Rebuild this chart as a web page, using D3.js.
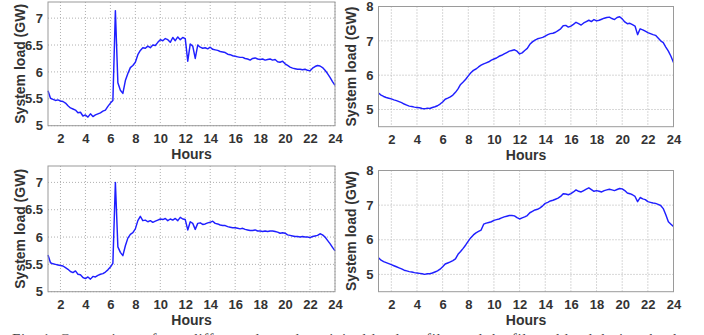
<!DOCTYPE html>
<html>
<head>
<meta charset="utf-8">
<script src="https://cdn.jsdelivr.net/npm/d3@7"></script>
<style>
  body { margin: 0; background: #fff; }
  svg { display: block; }
</style>
</head>
<body>
<div id="chart"></div>
<script>
// time base: one sample every 0.2 h, from hour 1 to hour 24
const hours = d3.range(116).map(i => 1 + i * 0.2);
const hourTicks = [2, 4, 6, 8, 10, 12, 14, 16, 18, 20, 22, 24];
const loadTicksLeft = [5, 5.5, 6, 6.5, 7];
const loadTicksRight = [5, 6, 7, 8];

// system load (GW), rows of 10 samples = 2 hours
const loadTopLeft = [
  5.65,5.51,5.49,5.47,5.48,5.46,5.45,5.42,5.37,5.33,
  5.31,5.29,5.24,5.25,5.18,5.20,5.16,5.22,5.17,5.20,
  5.22,5.24,5.27,5.29,5.36,5.42,5.47,7.14,5.80,5.66,
  5.60,5.84,5.97,6.08,6.12,6.18,6.32,6.40,6.45,6.44,
  6.48,6.45,6.50,6.49,6.55,6.60,6.58,6.62,6.60,6.55,
  6.64,6.58,6.65,6.60,6.64,6.62,6.20,6.52,6.48,6.25,
  6.50,6.46,6.44,6.45,6.43,6.46,6.42,6.41,6.40,6.38,
  6.37,6.36,6.33,6.32,6.30,6.29,6.28,6.27,6.27,6.25,
  6.24,6.22,6.25,6.26,6.24,6.23,6.24,6.22,6.23,6.24,
  6.22,6.23,6.19,6.18,6.20,6.15,6.12,6.09,6.07,6.06,
  6.05,6.05,6.04,6.05,6.03,6.02,6.07,6.10,6.12,6.11,
  6.08,6.03,5.97,5.90,5.82,5.75
];
const loadTopRight = [
  5.48,5.42,5.38,5.35,5.33,5.31,5.28,5.26,5.23,5.20,
  5.16,5.13,5.10,5.09,5.07,5.06,5.05,5.03,5.02,5.04,
  5.03,5.06,5.08,5.11,5.16,5.22,5.30,5.33,5.37,5.42,
  5.50,5.60,5.73,5.80,5.88,5.98,6.07,6.14,6.18,6.24,
  6.29,6.33,6.36,6.39,6.44,6.47,6.50,6.55,6.58,6.62,
  6.66,6.70,6.72,6.74,6.70,6.62,6.65,6.72,6.78,6.90,
  6.97,7.02,7.06,7.08,7.10,7.14,7.18,7.21,7.22,7.25,
  7.30,7.35,7.44,7.45,7.40,7.43,7.48,7.54,7.50,7.46,
  7.52,7.56,7.60,7.56,7.62,7.58,7.60,7.63,7.66,7.68,
  7.69,7.65,7.62,7.68,7.70,7.64,7.55,7.50,7.51,7.47,
  7.43,7.18,7.35,7.32,7.28,7.24,7.21,7.18,7.16,7.08,
  7.00,6.95,6.82,6.70,6.55,6.37
];
const loadBottomLeft = [
  5.67,5.53,5.51,5.50,5.49,5.48,5.47,5.44,5.41,5.37,
  5.35,5.38,5.32,5.31,5.26,5.24,5.27,5.23,5.28,5.27,
  5.30,5.32,5.33,5.36,5.40,5.45,5.52,7.00,5.82,5.72,
  5.66,5.84,5.98,6.05,6.08,6.15,6.30,6.38,6.30,6.31,
  6.28,6.30,6.27,6.29,6.31,6.33,6.32,6.34,6.30,6.33,
  6.31,6.34,6.30,6.36,6.33,6.32,6.13,6.28,6.25,6.14,
  6.25,6.26,6.23,6.24,6.26,6.27,6.29,6.25,6.24,6.22,
  6.21,6.21,6.19,6.18,6.17,6.17,6.16,6.15,6.16,6.14,
  6.13,6.12,6.12,6.13,6.11,6.11,6.10,6.11,6.10,6.11,
  6.11,6.10,6.09,6.07,6.08,6.07,6.04,6.03,6.02,6.01,
  6.01,6.00,6.01,6.00,6.00,5.99,6.01,6.02,6.03,6.06,
  6.04,6.00,5.94,5.88,5.81,5.75
];
const loadBottomRight = [
  5.48,5.41,5.37,5.34,5.31,5.28,5.25,5.22,5.19,5.16,
  5.12,5.10,5.08,5.07,5.05,5.04,5.03,5.02,5.00,5.02,
  5.02,5.04,5.07,5.10,5.15,5.22,5.30,5.33,5.36,5.40,
  5.45,5.58,5.66,5.75,5.85,5.96,6.06,6.14,6.20,6.24,
  6.28,6.45,6.48,6.50,6.52,6.56,6.58,6.60,6.63,6.66,
  6.68,6.70,6.70,6.69,6.64,6.60,6.63,6.66,6.70,6.78,
  6.82,6.86,6.88,6.92,6.98,7.05,7.08,7.12,7.14,7.17,
  7.20,7.25,7.33,7.32,7.30,7.33,7.38,7.44,7.40,7.38,
  7.42,7.46,7.50,7.45,7.40,7.42,7.40,7.38,7.42,7.44,
  7.46,7.44,7.42,7.45,7.48,7.47,7.42,7.35,7.33,7.30,
  7.25,7.10,7.22,7.18,7.16,7.10,7.08,7.06,7.05,7.02,
  6.99,6.90,6.72,6.52,6.45,6.38
];

const xLabel = "Hours";
const yLabel = "System load (GW)";
const caption = "Fig. 1. Comparison of two different days: the original load profiles and the filtered load during the day";

const width = 704, height = 335;
const font = "'Liberation Sans', Arial, sans-serif";

const svg = d3.select("#chart").append("svg")
  .attr("width", width)
  .attr("height", height);

// one panel per day
function drawPanel(values, box, yDomain, yTicks){
  const [x0, y0, x1, y1] = box;
  const xScale = d3.scaleLinear().domain([1, 24]).range([x0, x1]);
  const yScale = d3.scaleLinear().domain(yDomain).range([y1, y0]);
  const g = svg.append("g");

  // dotted grid
  g.append("g")
    .selectAll("line")
    .data(hourTicks)
    .enter().append("line")
    .attr("x1", d => xScale(d)).attr("x2", d => xScale(d))
    .attr("y1", y0).attr("y2", y1)
    .attr("stroke", "#b0b0b0").attr("stroke-dasharray", "1,2");
  g.append("g")
    .selectAll("line")
    .data(yTicks)
    .enter().append("line")
    .attr("x1", x0).attr("x2", x1)
    .attr("y1", d => yScale(d)).attr("y2", d => yScale(d))
    .attr("stroke", "#b0b0b0").attr("stroke-dasharray", "1,2");

  // load curve
  const line = d3.line()
    .x((d, i) => xScale(hours[i]))
    .y(d => yScale(d));
  g.append("path")
    .datum(values)
    .attr("fill", "none")
    .attr("stroke", "#1f1fff")
    .attr("stroke-width", 1.45)
    .attr("stroke-linejoin", "round")
    .attr("d", line);

  // frame
  g.append("rect")
    .attr("x", x0).attr("y", y0)
    .attr("width", x1 - x0).attr("height", y1 - y0)
    .attr("fill", "none")
    .attr("stroke", "#9a9a9a");

  // axes (labels only)
  const xAxis = g.append("g")
    .attr("transform", "translate(0," + y1 + ")")
    .call(d3.axisBottom(xScale).tickValues(hourTicks).tickSize(0).tickPadding(8));
  const yAxis = g.append("g")
    .attr("transform", "translate(" + x0 + ",0)")
    .call(d3.axisLeft(yScale).tickValues(yTicks).tickSize(0).tickPadding(5)
      .tickFormat(d => String(d)));
  [xAxis, yAxis].forEach(a => {
    a.select(".domain").remove();
    a.selectAll("text")
      .attr("font-family", font)
      .attr("font-size", "13px")
      .attr("font-weight", "bold")
      .attr("fill", "#333");
  });

  g.append("text")
    .attr("x", (x0 + x1) / 2)
    .attr("y", y1 + 33.5)
    .attr("text-anchor", "middle")
    .attr("font-family", font)
    .attr("font-size", "14px")
    .attr("font-weight", "bold")
    .attr("fill", "#333")
    .text(xLabel);

  g.append("text")
    .attr("transform", "translate(" + (x0 - 23) + "," + ((y0 + y1) / 2) + ") rotate(-90)")
    .attr("text-anchor", "middle")
    .attr("font-family", font)
    .attr("font-size", "14px")
    .attr("font-weight", "bold")
    .attr("fill", "#333")
    .text(yLabel);
}

drawPanel(loadTopLeft, [48, 2, 335, 125.7], [5, 7.3], loadTicksLeft);
drawPanel(loadTopRight, [378.5, 6.5, 673.5, 126.7], [4.5, 8], loadTicksRight);
drawPanel(loadBottomLeft, [48, 166, 335, 291.7], [5, 7.3], loadTicksLeft);
drawPanel(loadBottomRight, [378.5, 170.5, 673.5, 291.7], [4.5, 8], loadTicksRight);

// figure caption, cut off by the bottom edge as in the source page
svg.append("text")
  .attr("x", 12)
  .attr("y", 344)
  .attr("font-family", "'Liberation Serif', 'Times New Roman', serif")
  .attr("font-size", "15px")
  .attr("fill", "#444")
  .attr("textLength", 680)
  .text(caption);
</script>
</body>
</html>
